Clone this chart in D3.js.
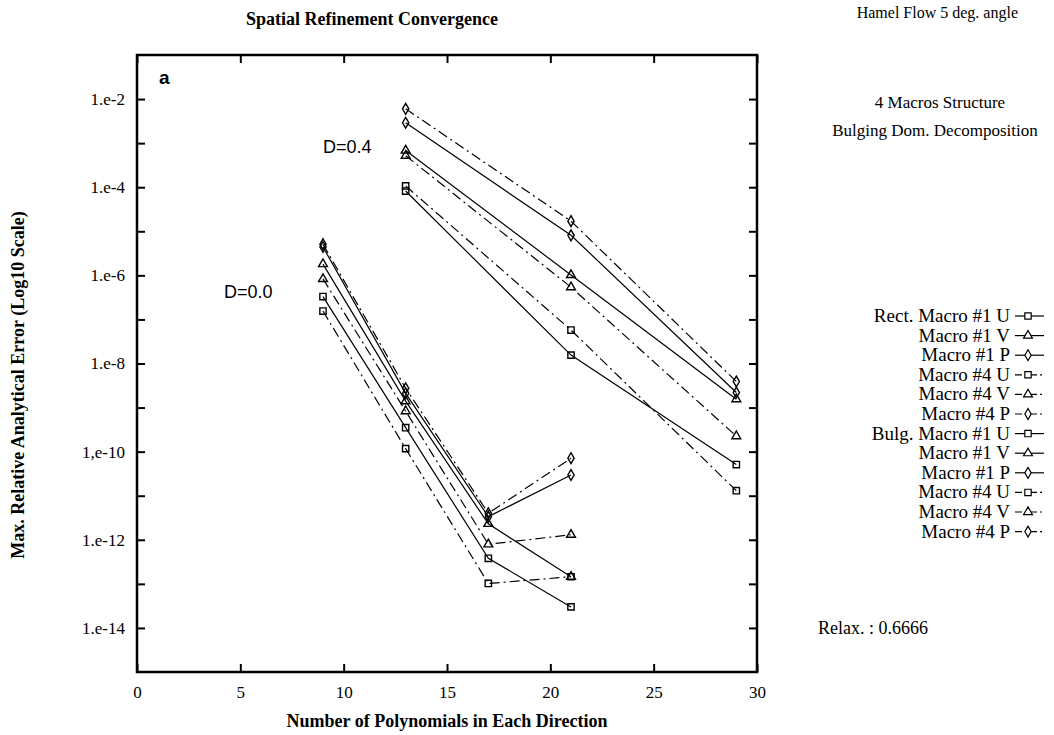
<!DOCTYPE html>
<html>
<head>
<meta charset="utf-8">
<script src="https://cdn.jsdelivr.net/npm/d3@7"></script>
<style>
  body { margin: 0; background: #fff; }
  svg { display: block; }
  .axis path { display: none; }
  .axis line { stroke: #000; stroke-width: 2; }
  .axis text { font-family: "Liberation Serif", serif; font-size: 17px; fill: #000; }
</style>
</head>
<body>
<div id="chart"></div>
<script>
// x values (number of polynomials)
var rectN = [9, 13, 17, 21];
var bulgN = [13, 21, 29];

// Rect. (D=0.0) errors
var rectU1 = [3.3e-7, 3.5e-10, 3.8e-13, 3.0e-14];
var rectV1 = [1.8e-6, 1.4e-9, 2.3e-12, 1.45e-13];
var rectP1 = [4.4e-6, 2.1e-9, 3.35e-12, 2.95e-11];
var rectU4 = [1.55e-7, 1.17e-10, 1.02e-13, 1.45e-13];
var rectV4 = [8.3e-7, 8.3e-10, 7.9e-13, 1.3e-12];
var rectP4 = [5.1e-6, 2.75e-9, 4.0e-12, 7.1e-11];

// Bulg. (D=0.4) errors
var bulgU1 = [8.2e-5, 1.55e-8, 5.1e-11];
var bulgV1 = [6.8e-4, 1.02e-6, 1.55e-9];
var bulgP1 = [2.9e-3, 8.1e-6, 2.2e-9];
var bulgU4 = [1.07e-4, 5.75e-8, 1.3e-11];
var bulgV4 = [5.2e-4, 5.4e-7, 2.25e-10];
var bulgP4 = [6.0e-3, 1.7e-5, 3.9e-9];

var legendLabels = ["Rect. Macro #1 U", "Macro #1 V", "Macro #1 P", "Macro #4 U", "Macro #4 V", "Macro #4 P",
                    "Bulg. Macro #1 U", "Macro #1 V", "Macro #1 P", "Macro #4 U", "Macro #4 V", "Macro #4 P"];
var markers = ["square", "triangle", "diamond", "square", "triangle", "diamond",
               "square", "triangle", "diamond", "square", "triangle", "diamond"];
var dashed = [false, false, false, true, true, true, false, false, false, true, true, true];

var xTicks = [0, 5, 10, 15, 20, 25, 30];
var yLabelTicks = [1e-2, 1e-4, 1e-6, 1e-8, 1e-10, 1e-12, 1e-14];
var yTickLabels = ["1.e-2", "1.e-4", "1.e-6", "1.e-8", "1,e-10", "1.e-12", "1.e-14"];
var yMinorTicks = [1e-3, 1e-5, 1e-7, 1e-9, 1e-11, 1e-13];

var seriesX = [rectN, rectN, rectN, rectN, rectN, rectN, bulgN, bulgN, bulgN, bulgN, bulgN, bulgN];
var seriesY = [rectU1, rectV1, rectP1, rectU4, rectV4, rectP4, bulgU1, bulgV1, bulgP1, bulgU4, bulgV4, bulgP4];

var W = 1054, H = 735;
var margin = {top: 55, left: 137, right: 297, bottom: 63};
var width = W - margin.left - margin.right,
    height = H - margin.top - margin.bottom;
var dashArr = "10,4,2,4";

var svg = d3.select("#chart").append("svg")
    .attr("width", W)
    .attr("height", H);

var g = svg.append("g")
    .attr("transform", "translate(" + margin.left + "," + margin.top + ")");

var x = d3.scaleLinear().domain([0, 30]).range([0, width]);
var y = d3.scaleLog().domain([1e-15, 1e-1]).range([height, 0]);

// symbol generators
function markerPath(type) {
  if (type == "square") return d3.symbol().type(d3.symbolSquare).size(40)();
  if (type == "triangle") return d3.symbol().type(d3.symbolTriangle).size(34)();
  return d3.symbol().type(d3.symbolDiamond).size(34)();
}

// series
var line = d3.line()
    .x(function(d) { return x(d[0]); })
    .y(function(d) { return y(d[1]); });

seriesY.forEach(function(vals, i) {
  var pts = vals.map(function(v, j) { return [seriesX[i][j], v]; });
  g.append("path")
      .datum(pts)
      .attr("d", line)
      .attr("fill", "none")
      .attr("stroke", "#000")
      .attr("stroke-width", 1.2)
      .attr("stroke-dasharray", dashed[i] ? dashArr : null);
  g.selectAll(".m" + i)
      .data(pts)
    .enter().append("path")
      .attr("class", "m" + i)
      .attr("d", markerPath(markers[i]))
      .attr("transform", function(d) { return "translate(" + x(d[0]) + "," + y(d[1]) + ")"; })
      .attr("fill", "none")
      .attr("stroke", "#000")
      .attr("stroke-width", 1.4);
});

// axes (ticks inward)
g.append("g").attr("class", "axis")
    .attr("transform", "translate(0," + height + ")")
    .call(d3.axisBottom(x).tickValues(xTicks).tickSize(-8).tickPadding(14).tickFormat(d3.format("d")));
g.append("g").attr("class", "axis")
    .call(d3.axisTop(x).tickValues(xTicks).tickSize(-8).tickFormat(""));
g.append("g").attr("class", "axis")
    .call(d3.axisLeft(y).tickValues(yLabelTicks).tickSize(-8).tickPadding(12)
      .tickFormat(function(d, i) { return yTickLabels[i]; }));
g.append("g").attr("class", "axis")
    .call(d3.axisLeft(y).tickValues(yMinorTicks).tickSize(-8).tickFormat(""));
g.append("g").attr("class", "axis")
    .attr("transform", "translate(" + width + ",0)")
    .call(d3.axisRight(y).tickValues(yLabelTicks.concat(yMinorTicks)).tickSize(-8).tickFormat(""));

// frame
g.append("rect")
    .attr("width", width)
    .attr("height", height)
    .attr("fill", "none")
    .attr("stroke", "#000")
    .attr("stroke-width", 2.5);

// texts
var serif = "Liberation Serif, serif";
var sans = "Liberation Sans, sans-serif";

svg.append("text")
    .attr("x", 372).attr("y", 25)
    .style("text-anchor", "middle")
    .style("font-family", serif).style("font-size", "18px").style("font-weight", "bold")
    .text("Spatial Refinement Convergence");

svg.append("text")
    .attr("x", 1018).attr("y", 18)
    .style("text-anchor", "end")
    .style("font-family", serif).style("font-size", "16px")
    .text("Hamel Flow 5 deg. angle");

svg.append("text")
    .attr("x", 940).attr("y", 108)
    .style("text-anchor", "middle")
    .style("font-family", serif).style("font-size", "17px")
    .text("4 Macros Structure");

svg.append("text")
    .attr("x", 935).attr("y", 136)
    .style("text-anchor", "middle")
    .style("font-family", serif).style("font-size", "17px")
    .text("Bulging Dom. Decomposition");

svg.append("text")
    .attr("x", 818).attr("y", 634)
    .style("font-family", serif).style("font-size", "18px")
    .text("Relax. : 0.6666");

svg.append("text")
    .attr("x", margin.left + width / 2).attr("y", 727)
    .style("text-anchor", "middle")
    .style("font-family", serif).style("font-size", "18px").style("font-weight", "bold")
    .text("Number of Polynomials in Each Direction");

svg.append("text")
    .attr("transform", "translate(24,385) rotate(-90)")
    .style("text-anchor", "middle")
    .style("font-family", serif).style("font-size", "18px").style("font-weight", "bold")
    .text("Max. Relative Analytical Error (Log10 Scale)");

svg.append("text")
    .attr("x", 159).attr("y", 84)
    .style("font-family", sans).style("font-size", "19px").style("font-weight", "bold")
    .text("a");

svg.append("text")
    .attr("x", 323).attr("y", 153)
    .style("font-family", sans).style("font-size", "18px")
    .text("D=0.4");

svg.append("text")
    .attr("x", 224).attr("y", 298)
    .style("font-family", sans).style("font-size", "18px")
    .text("D=0.0");

// legend
var legend = svg.append("g");
legendLabels.forEach(function(lab, i) {
  var ly = 316 + i * 19.6;
  legend.append("text")
      .attr("x", 1010).attr("y", ly + 6)
      .style("text-anchor", "end")
      .style("font-family", serif).style("font-size", "19px")
      .text(lab);
  legend.append("line")
      .attr("x1", 1015).attr("x2", 1044)
      .attr("y1", ly).attr("y2", ly)
      .attr("stroke", "#000")
      .attr("stroke-width", 1.2)
      .attr("stroke-dasharray", dashed[i] ? "7,3,2,3" : null);
  legend.append("path")
      .attr("d", markerPath(markers[i]))
      .attr("transform", "translate(1028," + ly + ")")
      .attr("fill", "#fff")
      .attr("stroke", "#000")
      .attr("stroke-width", 1.2);
});
</script>
</body>
</html>
